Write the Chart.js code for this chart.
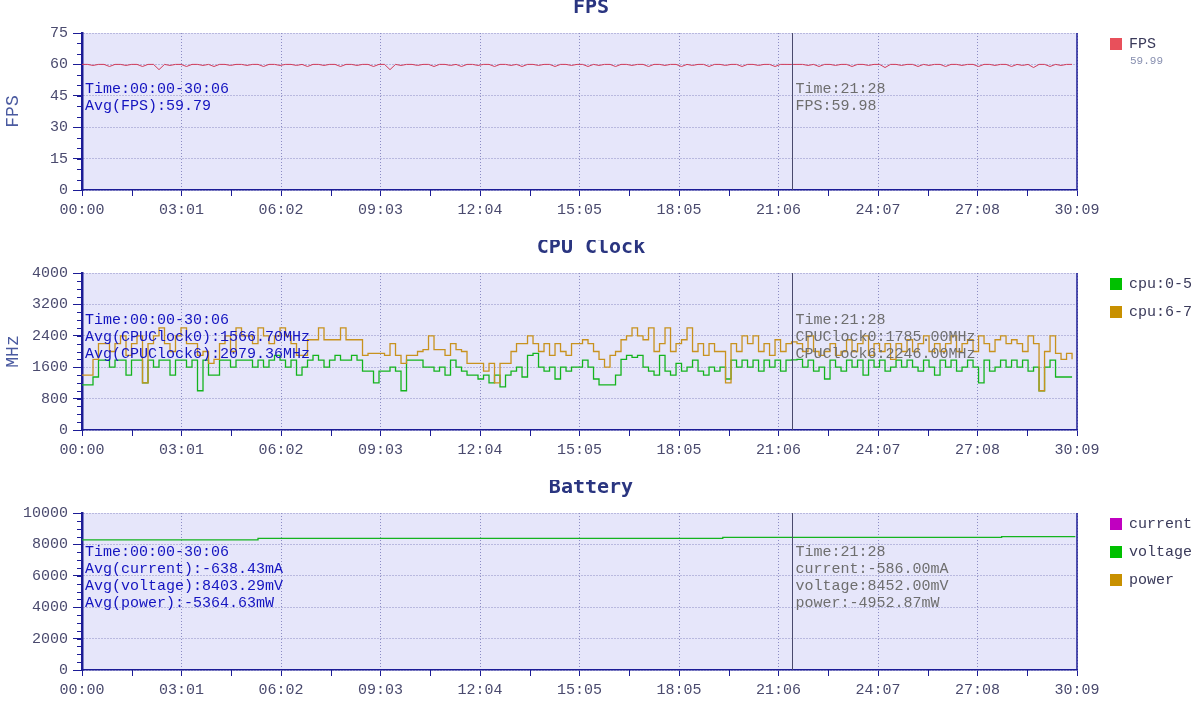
<!DOCTYPE html>
<html>
<head>
<meta charset="utf-8">
<script src="https://cdn.jsdelivr.net/npm/chart.js@4.4.1/dist/chart.umd.min.js"></script>
<style>
html, body { margin: 0; padding: 0; background: #fff; overflow: hidden; }
canvas { display: block; }
</style>
</head>
<body>
<canvas id="fpsChart" width="1200" height="240"></canvas>
<canvas id="cpuChart" width="1200" height="240"></canvas>
<canvas id="batteryChart" width="1200" height="240"></canvas>
<script>
// time axis (seconds), tick labels every 180.9 s
const xTickLabels = ['00:00', '03:01', '06:02', '09:03', '12:04', '15:05', '18:05', '21:06', '24:07', '27:08', '30:09'];
const X_MAX = 1809;
const SAMPLE_STEP = 10; // one sample every 10 s
const cursorTime = 1291; // 21:28 marker

// FPS, one value per sample
const fpsValues = [
    60, 60, 59.5, 60, 60, 59, 60, 60, 59.5, 60,
    60, 59, 60, 60, 57.5, 60, 59.5, 60, 60, 59,
    60, 60, 59.5, 60, 59, 60, 60, 59.5, 60, 60,
    59.5, 60, 60, 59, 60, 60, 59.5, 60, 60, 59.5,
    60, 59, 60, 60, 59.5, 60, 60, 59, 60, 60,
    59.5, 60, 60, 59, 60, 60, 57.5, 60, 59.5, 60,
    60, 59.5, 60, 60, 59, 60, 60, 59.5, 60, 59,
    60, 60, 59.5, 60, 60, 59, 60, 60, 59.5, 60,
    59, 60, 60, 59.5, 60, 60, 59, 60, 60, 59.5,
    60, 60, 59, 60, 59.5, 60, 60, 59, 60, 60,
    59.5, 60, 60, 59, 60, 60, 59.5, 60, 60, 59,
    60, 59.5, 60, 60, 59, 60, 60, 59.5, 60, 60,
    59, 60, 60, 59.5, 60, 60, 59, 60, 60, 59.98,
    60, 60, 59.5, 60, 59, 60, 60, 59.5, 60, 60,
    59, 60, 60, 59.5, 60, 60, 58.5, 60, 60, 59.5,
    60, 60, 59, 60, 59.5, 60, 60, 59, 60, 60,
    59.5, 60, 60, 59, 60, 60, 59.5, 60, 60, 59,
    60, 59.5, 60, 58.5, 60, 60, 59, 60, 59.5, 60,
    60
];

// CPU clock MHz, cluster 0-5 and 6-7
const cpu0Values = [
    1150, 1150, 1350, 1780, 1780, 1600, 1780, 1780, 1400, 1780,
    1780, 1200, 1780, 1600, 1780, 1780, 1400, 1780, 1780, 1600,
    1780, 1000, 1780, 1400, 1400, 1780, 1780, 1600, 1780, 1780,
    1780, 1600, 1780, 1600, 1780, 1900, 1780, 1600, 1780, 1400,
    1600, 1780, 1900, 1780, 1600, 1780, 1900, 1780, 1780, 1900,
    1780, 1500, 1500, 1200, 1500, 1500, 1600, 1500, 1000, 1780,
    1780, 1780, 1600, 1600, 1500, 1600, 1400, 1780, 1600, 1500,
    1400, 1400, 1300, 1400, 1200, 1400, 1100, 1400, 1500, 1600,
    1350, 1900, 1950, 1600, 1500, 1600, 1300, 1600, 1500, 1600,
    1600, 1780, 1600, 1300, 1150, 1150, 1150, 1400, 1800, 1900,
    1850, 1900, 1600, 1500, 1400, 1900, 1500, 1400, 1700, 1500,
    1600, 1780, 1500, 1400, 1600, 1500, 1600, 1300, 1780, 1600,
    1780, 1600, 1780, 1500, 1780, 1600, 1780, 1500, 1780, 1785,
    1800, 1600, 1780, 1500, 1600, 1300, 1780, 1600, 1500, 1780,
    1600, 1780, 1400, 1780, 1600, 1780, 1500, 1600, 1780, 1600,
    1780, 1600, 1500, 1780, 1600, 1400, 1780, 1600, 1780, 1500,
    1600, 1780, 1600, 1200, 1780, 1500, 1600, 1780, 1600, 1780,
    1600, 1780, 1500, 1600, 1000, 1600, 1780, 1350, 1350, 1350,
    1350
];
const cpu6Values = [
    1400, 1400, 1800, 2200, 2200, 2000, 2200, 2400, 1900, 2200,
    2400, 1200, 2200, 2400, 2600, 2200, 2000, 2400, 2600, 2200,
    2200, 1900, 2000, 1700, 1800, 2200, 2400, 2000, 2600, 2400,
    2400, 2200, 2600, 2400, 2200, 2400, 2600, 2400, 2200, 1900,
    1900, 2300, 2300, 2600, 2300, 2300, 2300, 2600, 2300, 2300,
    2300, 1900, 1950, 1950, 1950, 1900, 2200, 1900, 1700, 1900,
    1900, 2000, 2050, 2400, 2050, 2050, 1900, 2200, 2050, 2000,
    1700, 1700, 1700, 1500, 1700, 1200, 1700, 1700, 2000, 2200,
    2200, 2400, 2200, 2000, 2200, 1900, 2200, 2000, 1900, 2200,
    2200, 2300, 2200, 2000, 1800, 1600, 1900, 2000, 2300, 2400,
    2600, 2400, 2300, 2600, 2000, 2200, 2600, 2000, 2200, 2300,
    2600, 2000, 2200, 1900, 2200, 2000, 2000, 1200, 2200, 2000,
    2400, 2200, 2400, 2000, 2200, 1900, 2300, 2000, 2200, 2246,
    2200, 2000, 2400, 2000, 1900, 2000, 2200, 1900, 2000, 2300,
    2000, 2200, 2400, 1900, 2200, 2000, 2200, 1800, 2200, 2000,
    2300, 2000, 2200, 2400, 2000, 2200, 2000, 2200, 2400, 2000,
    2200, 2300, 2000, 2400, 2200, 2000, 2300, 2400, 2200, 2300,
    2200, 2000, 2400, 2200, 1000, 2000, 2400, 1950, 1800, 1950,
    1800
];

// battery, sampled where the readings change
const batteryTimes = [0, 320, 1165, 1672, 1806];
const currentValues = [-660, -645, -586, -620, -620];
const voltageValues = [8290, 8390, 8452, 8500, 8500];
const powerValues = [-5470, -5410, -4953, -5270, -5270];

const AXIS_COLOR = '#1c1c96';
const GRID_COLOR = '#8c8cc4';
const TICK_COLOR = '#4a4a6e';
const PLOT_BG = '#e6e6fa';
const FONT = '"Liberation Mono", "DejaVu Sans Mono", monospace';

Chart.defaults.font.family = FONT;
Chart.defaults.font.size = 15;

const X_TICK_STEP = X_MAX / (xTickLabels.length - 1);
const sampleTimes = fpsValues.map((_, i) => i * SAMPLE_STEP);

function points(times, values) {
    return values.map((v, i) => ({ x: times[i], y: v }));
}

const decor = {
    id: 'decor',
    beforeDraw(chart, args, o) {
        const { ctx, chartArea: a } = chart;
        ctx.save();
        ctx.fillStyle = PLOT_BG;
        ctx.fillRect(a.left, a.top, a.right - a.left, a.bottom - a.top);
        ctx.restore();
    },
    afterDraw(chart, args, o) {
        const { ctx, chartArea: a } = chart;
        const xs = chart.scales.x, ys = chart.scales.y;
        ctx.save();

        // title
        ctx.fillStyle = '#2a3580';
        ctx.font = 'bold 20px "DejaVu Sans Mono", monospace';
        ctx.textAlign = 'center';
        ctx.textBaseline = 'middle';
        ctx.fillText(o.title, 591, 8);

        // right border
        ctx.strokeStyle = AXIS_COLOR;
        ctx.lineWidth = 1.5;
        ctx.beginPath();
        ctx.moveTo(a.right, a.top);
        ctx.lineTo(a.right, a.bottom);
        ctx.stroke();

        // minor ticks
        ctx.lineWidth = 1;
        ctx.beginPath();
        for (let i = 0; i < xTickLabels.length - 1; i++) {
            const px = Math.round(xs.getPixelForValue((i + 0.5) * X_TICK_STEP)) + 0.5;
            ctx.moveTo(px, a.bottom);
            ctx.lineTo(px, a.bottom + 6);
        }
        const minorStep = o.yStep / o.yMinor;
        for (let v = 0; v <= o.yMax + 1e-6; v += minorStep) {
            const py = Math.round(ys.getPixelForValue(v)) + 0.5;
            ctx.moveTo(a.left - 5, py);
            ctx.lineTo(a.left, py);
        }
        ctx.stroke();

        // cursor line
        const cx = Math.round(xs.getPixelForValue(cursorTime)) + 0.5;
        ctx.strokeStyle = '#4a4a6c';
        ctx.beginPath();
        ctx.moveTo(cx, a.top);
        ctx.lineTo(cx, a.bottom);
        ctx.stroke();

        // info text
        ctx.font = '15px ' + FONT;
        ctx.textAlign = 'left';
        const lh = 17;
        const mid = a.top + 0.41 * (a.bottom - a.top);
        const y0 = mid - (o.leftLines.length - 1) * lh / 2;
        ctx.fillStyle = '#1414c0';
        o.leftLines.forEach((s, i) => ctx.fillText(s, a.left + 3, y0 + i * lh));
        ctx.fillStyle = '#6e6e6e';
        o.rightLines.forEach((s, i) => ctx.fillText(s, cx + 3, y0 + i * lh));

        // legend
        o.legend.forEach((item, i) => {
            const ly = 44 + i * 28;
            ctx.fillStyle = item.color;
            ctx.fillRect(1110, ly - 6, 12, 12);
            ctx.fillStyle = '#3a3a5a';
            ctx.font = '15px ' + FONT;
            ctx.fillText(item.label, 1129, ly);
            if (item.sub) {
                ctx.fillStyle = '#8890b0';
                ctx.font = '11px ' + FONT;
                ctx.fillText(item.sub, 1130, ly + 17);
            }
        });
        ctx.restore();
    }
};

function makeChart(id, datasets, yMax, yStep, yMinor, yTitle, decorOpts) {
    return new Chart(document.getElementById(id), {
        type: 'line',
        data: { datasets },
        options: {
            responsive: false,
            animation: false,
            devicePixelRatio: 1,
            layout: { padding: { top: 33, right: 123, bottom: 0, left: 0 } },
            plugins: {
                legend: { display: false },
                tooltip: { enabled: false },
                decor: Object.assign({ yMax, yStep, yMinor }, decorOpts)
            },
            elements: { point: { radius: 0 }, line: { borderWidth: 1.3 } },
            scales: {
                x: {
                    type: 'linear', min: 0, max: X_MAX,
                    afterBuildTicks: s => { s.ticks = xTickLabels.map((l, i) => ({ value: i * X_TICK_STEP })); },
                    afterFit: s => { s.height = 50; },
                    ticks: { callback: (v, i) => xTickLabels[i], color: TICK_COLOR, padding: 5, maxRotation: 0, autoSkip: false },
                    grid: { color: GRID_COLOR, tickColor: AXIS_COLOR, tickLength: 6 },
                    border: { color: AXIS_COLOR, width: 1.5, dash: [1, 2] }
                },
                y: {
                    min: 0, max: yMax,
                    afterFit: s => { s.width = 82; },
                    ticks: { stepSize: yStep, color: TICK_COLOR, padding: 5, callback: v => String(v) },
                    title: { display: !!yTitle, text: yTitle || '', color: '#4a5aa0', font: { size: 18 }, padding: { top: 2, bottom: 0 } },
                    grid: { color: GRID_COLOR, tickColor: AXIS_COLOR, tickLength: 9 },
                    border: { color: AXIS_COLOR, width: 2.5, dash: [1, 2] }
                }
            }
        },
        plugins: [decor]
    });
}

makeChart('fpsChart', [
    { label: 'FPS', data: points(sampleTimes, fpsValues), borderColor: '#d23c5a', borderWidth: 1 }
], 75, 15, 3, 'FPS', {
    title: 'FPS',
    leftLines: ['Time:00:00-30:06', 'Avg(FPS):59.79'],
    rightLines: ['Time:21:28', 'FPS:59.98'],
    legend: [{ label: 'FPS', color: '#e8505b', sub: '59.99' }]
});

makeChart('cpuChart', [
    { label: 'cpu:6-7', data: points(sampleTimes, cpu6Values), borderColor: '#c8921e', stepped: true },
    { label: 'cpu:0-5', data: points(sampleTimes, cpu0Values), borderColor: '#14b41e', stepped: true }
], 4000, 800, 4, 'MHz', {
    title: 'CPU Clock',
    leftLines: ['Time:00:00-30:06', 'Avg(CPUClock0):1566.70MHz', 'Avg(CPUClock6):2079.36MHz'],
    rightLines: ['Time:21:28', 'CPUClock0:1785.00MHz', 'CPUClock6:2246.00MHz'],
    legend: [{ label: 'cpu:0-5', color: '#00c000' }, { label: 'cpu:6-7', color: '#c89000' }]
});

makeChart('batteryChart', [
    { label: 'current', data: points(batteryTimes, currentValues), borderColor: '#c000c0', stepped: true },
    { label: 'voltage', data: points(batteryTimes, voltageValues), borderColor: '#14b41e', stepped: true },
    { label: 'power', data: points(batteryTimes, powerValues), borderColor: '#c89000', stepped: true }
], 10000, 2000, 4, null, {
    title: 'Battery',
    leftLines: ['Time:00:00-30:06', 'Avg(current):-638.43mA', 'Avg(voltage):8403.29mV', 'Avg(power):-5364.63mW'],
    rightLines: ['Time:21:28', 'current:-586.00mA', 'voltage:8452.00mV', 'power:-4952.87mW'],
    legend: [{ label: 'current', color: '#c000c0' }, { label: 'voltage', color: '#00c000' }, { label: 'power', color: '#c89000' }]
});
</script>
</body>
</html>
